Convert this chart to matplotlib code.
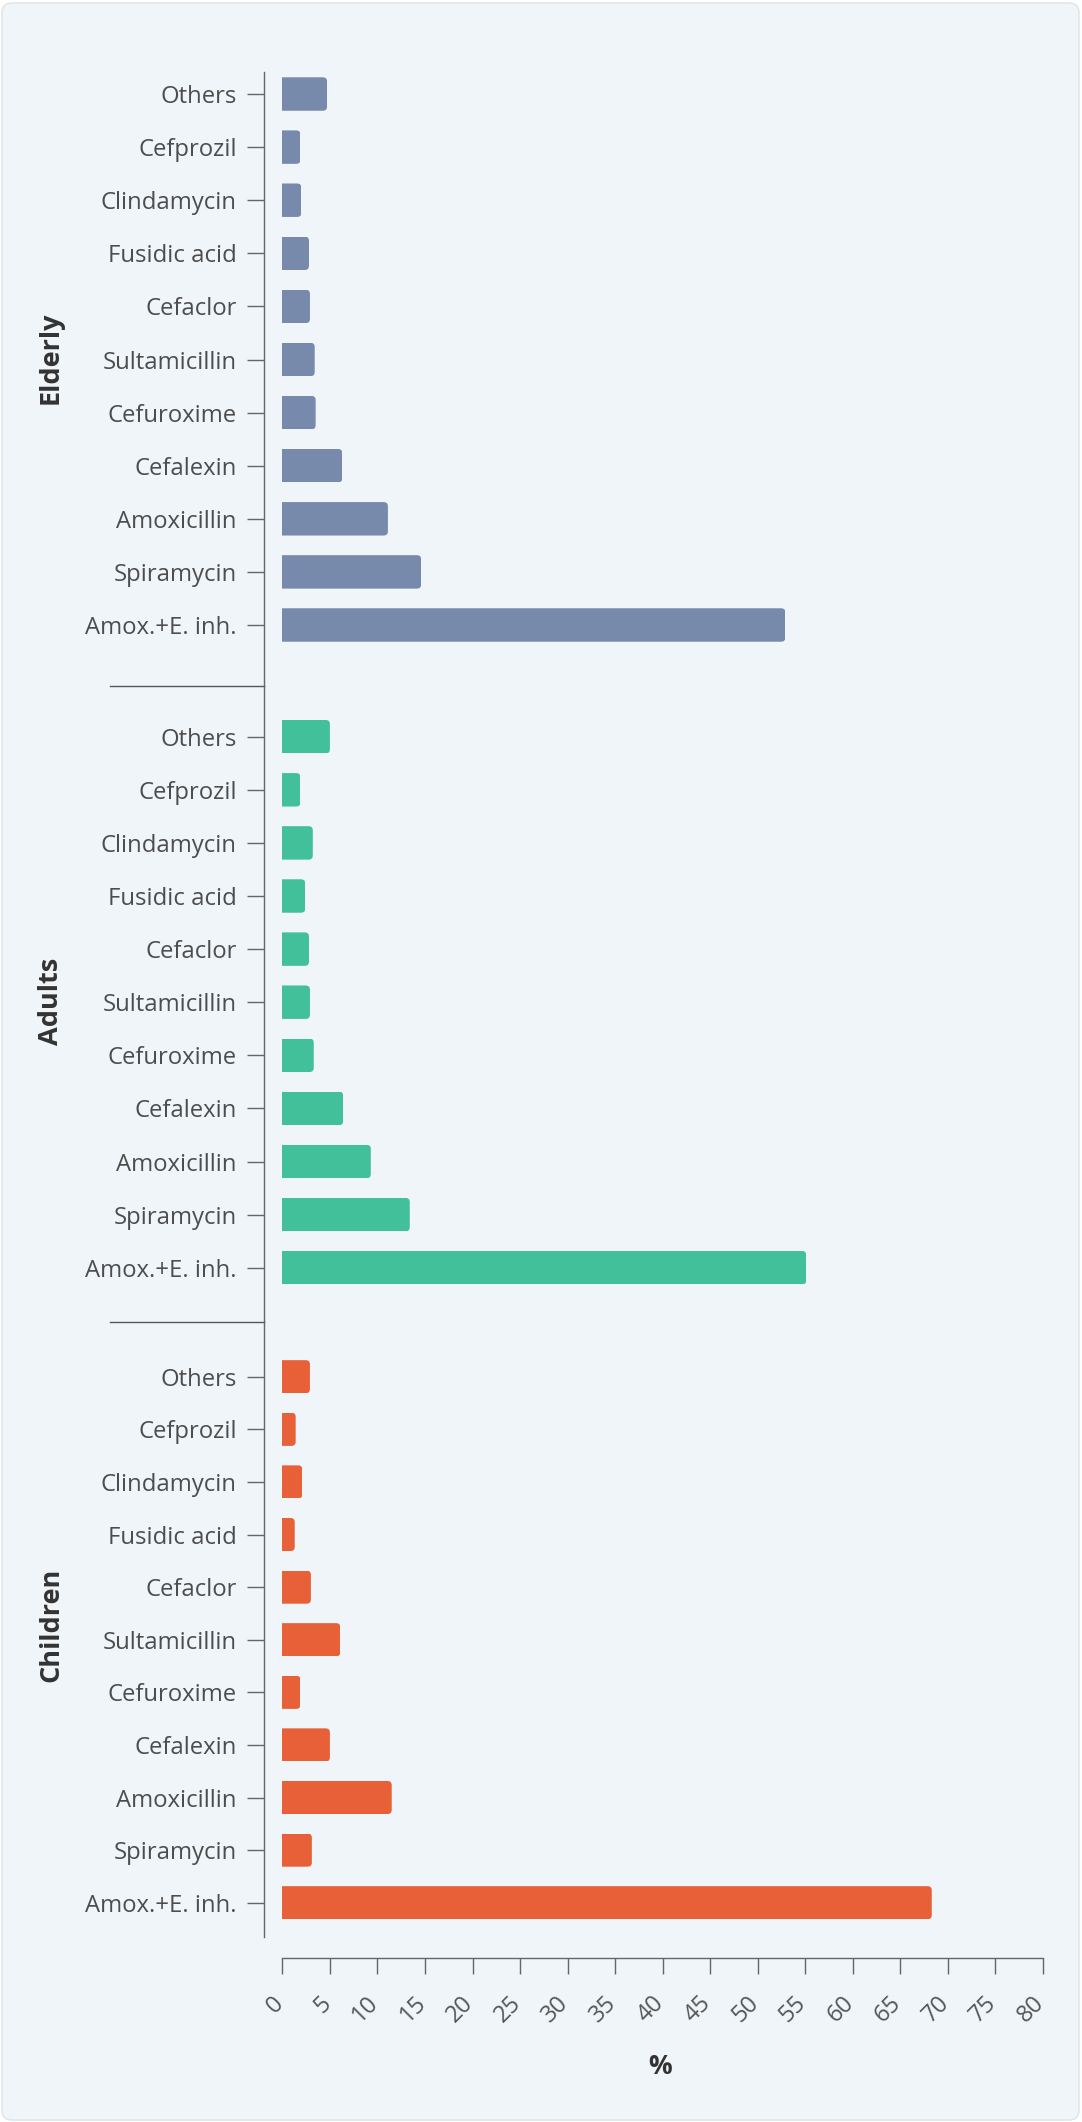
import matplotlib
matplotlib.use("Agg")
import matplotlib.pyplot as plt
import matplotlib.transforms as mtransforms
from matplotlib.patches import FancyBboxPatch
from matplotlib.lines import Line2D

plt.rcParams['font.family'] = ['Open Sans', 'DejaVu Sans']

# ---------------- data ----------------
drugs = ["Amox.+E. inh.", "Spiramycin", "Amoxicillin", "Cefalexin", "Cefuroxime",
         "Sultamicillin", "Cefaclor", "Fusidic acid", "Clindamycin", "Cefprozil", "Others"]
groups = ["Elderly", "Adults", "Children"]
elderly = [52.9, 14.6, 11.1, 6.3, 3.5, 3.4, 2.9, 2.8, 2.0, 1.9, 4.7]
adults = [55.1, 13.4, 9.3, 6.4, 3.3, 2.9, 2.8, 2.4, 3.2, 1.9, 5.0]
children = [68.3, 3.1, 11.5, 5.0, 1.9, 6.1, 3.0, 1.3, 2.1, 1.4, 2.9]
values = [elderly, adults, children]
colors = ["#778aac", "#42c09a", "#e86037"]
xticks = list(range(0, 85, 5))

# ---------------- layout ----------------
W, H = 1082, 2122
fig = plt.figure(figsize=(W / 100, H / 100), dpi=100, facecolor="white")

card = FancyBboxPatch((2 / W, 2 / H), (W - 5) / W, (H - 5) / H,
                      boxstyle="round,pad=0,rounding_size=0.009",
                      transform=fig.transFigure, facecolor="#f0f5f9",
                      edgecolor="#dde3e8", linewidth=1.0, zorder=-10,
                      mutation_aspect=W / H)
fig.patches.append(card)

def fy(px):
    return 1 - px / H

ax_left = 264.3 / W
ax_width = (1043 - 264.3) / W
panels = [  # (top px, bottom px, ylim)
    (72.3, 686.0, (-1.149, 10.409)),
    (686.0, 1321.7, (-1.017, 10.955)),
    (1321.7, 1936.7, (-0.646, 11.046)),
]
label_y = [358, 1001, 1625]

axes = []
for gi, (top, bot, ylim) in enumerate(panels):
    ax = fig.add_axes([ax_left, fy(bot), ax_width, (bot - top) / H])
    ax.set_zorder(5)
    ax.set_facecolor("none")
    ax.set_xlim(-1.9, 80)
    ax.set_ylim(*ylim)
    ypos = list(range(len(drugs)))
    bars = ax.barh(ypos, values[gi], height=0.63, color=colors[gi],
                   edgecolor="none", zorder=3)
    # rounded right ends
    for b in bars:
        clip = FancyBboxPatch((b.get_x() - 1.5, b.get_y()), b.get_width() + 1.5,
                              b.get_height(),
                              boxstyle="round,pad=0,rounding_size=0.45",
                              mutation_aspect=0.078 / 0.45,
                              transform=ax.transData, facecolor="none",
                              edgecolor="none")
        b.set_clip_path(clip)
    ax.set_yticks(ypos)
    ax.set_yticklabels(drugs)
    ax.tick_params(axis="y", length=12, width=1.0, color="#666666",
                   pad=8, labelsize=17.2, labelcolor="#4d4d4d")
    for s in ["top", "right", "bottom"]:
        ax.spines[s].set_visible(False)
    ax.spines["left"].set_color("#666666")
    ax.spines["left"].set_linewidth(1.0)
    if gi < 2:
        ax.set_xticks([])
    axes.append(ax)
    fig.text(51 / W, fy(label_y[gi]), groups[gi], rotation=90, ha="center",
             va="center", fontsize=19.5, fontweight="bold", color="#333333")

# separators
for yy in [686.0, 1321.7]:
    fig.add_artist(Line2D([110 / W, 264.3 / W], [fy(yy), fy(yy)],
                          transform=fig.transFigure, color="#555555",
                          linewidth=1.0))

# bottom x axis
axb = axes[-1]
axb.spines["bottom"].set_visible(True)
axb.spines["bottom"].set_position(("outward", 15))
axb.spines["bottom"].set_bounds(0, 80)
axb.spines["bottom"].set_color("#666666")
axb.spines["bottom"].set_linewidth(1.0)
axb.set_xticks(xticks)
axb.set_xticklabels([str(t) for t in xticks], rotation=45, ha="right",
                    va="top", rotation_mode="default")
axb.tick_params(axis="x", length=11.5, width=1.0, color="#666666", pad=13,
                labelsize=17, labelcolor="#555555")
shift = mtransforms.ScaledTranslation(6 / 100, 0, fig.dpi_scale_trans)
for lbl in axb.get_xticklabels():
    lbl.set_transform(lbl.get_transform() + shift)

fig.text(660 / W, fy(2066), "%", ha="center", va="center", fontsize=19,
         fontweight="bold", color="#333333")

fig.savefig("out.png", dpi=100, facecolor="white")
